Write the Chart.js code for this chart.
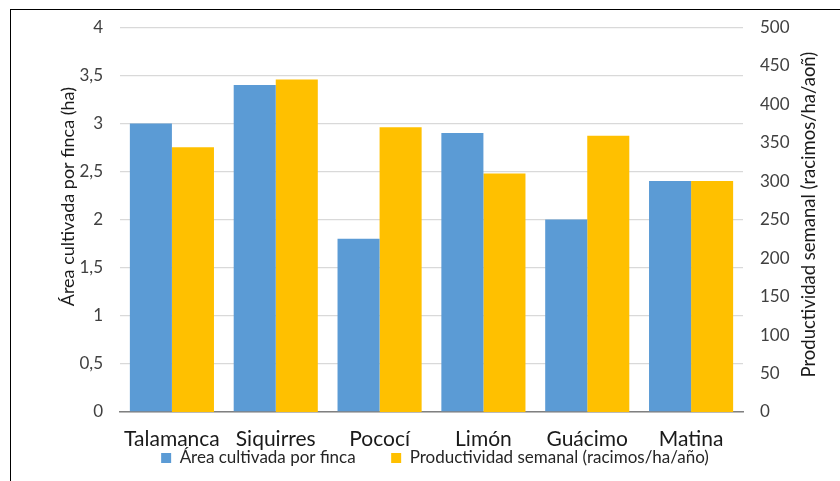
<!DOCTYPE html>
<html>
<head>
<meta charset="utf-8">
<script src="https://cdn.jsdelivr.net/npm/chart.js@4"></script>
<style>
  html, body { margin: 0; padding: 0; background: #fff; }
  body { width: 840px; height: 481px; overflow: hidden; position: relative; }
  #frame { position: absolute; left: 10px; top: 9px; width: 900px; height: 600px; border-left: 1.5px solid #000; border-top: 1.5px solid #000; }
  #wrap { position: absolute; left: 0; top: 0; width: 840px; height: 481px; }
</style>
</head>
<body>
<div id="frame"></div>
<div id="wrap"><canvas id="c" width="840" height="481"></canvas></div>
<script>
const categories = ["Talamanca", "Siquirres", "Pococí", "Limón", "Guácimo", "Matina"];
const areaLabel = "Área cultivada por finca";
const prodLabel = "Productividad semanal (racimos/ha/año)";
const areaValues = [3.0, 3.4, 1.8, 2.9, 2.0, 2.4];
const prodValues = [344, 432, 370, 310, 359, 300];
const leftTitle = "Área cultivada por finca (ha)";
const rightTitle = "Productividad semanal (racimos/ha/aoñ)";

const FONT = "Lato, 'Open Sans', sans-serif";

// Draws both axis titles reading bottom-to-top, as in the reference
const axisTitles = {
  id: 'axisTitles',
  afterLayout(chart) {
    // move the legend up so it sits right under the category labels
    if (chart.legend) {
      chart.legend.top -= 43;
      chart.legend.bottom -= 43;
    }
  },
  afterDraw(chart) {
    const ctx = chart.ctx;
    const area = chart.chartArea;
    const draw = (text, x, y, size) => {
      ctx.save();
      ctx.translate(x, y);
      ctx.rotate(-Math.PI / 2);
      ctx.textAlign = 'center';
      ctx.textBaseline = 'middle';
      ctx.fillStyle = '#1a1a1a';
      ctx.font = size + 'px ' + FONT;
      ctx.fillText(text, 0, 0);
      ctx.restore();
    };
    const yl = chart.scales.y, yr = chart.scales.y1;
    draw(leftTitle, yl.left + 28, (area.top + area.bottom) / 2 - 23, 18);
    draw(rightTitle, yr.right - 21, (area.top + area.bottom) / 2 - 5, 18.5);
  }
};

new Chart(document.getElementById('c'), {
  type: 'bar',
  data: {
    labels: categories,
    datasets: [
      { label: areaLabel, data: areaValues, backgroundColor: '#5B9BD5', yAxisID: 'y', categoryPercentage: 0.81, barPercentage: 1 },
      { label: prodLabel, data: prodValues, backgroundColor: '#FFC000', yAxisID: 'y1', categoryPercentage: 0.81, barPercentage: 1 }
    ]
  },
  plugins: [axisTitles],
  options: {
    responsive: false,
    animation: false,
    layout: { padding: { left: 40, right: 10, top: 18, bottom: -38.5 } },
    plugins: {
      tooltip: { enabled: false },
      legend: {
        position: 'bottom',
        labels: { boxWidth: 10, boxHeight: 10, padding: 35.5, color: '#262626', font: { family: FONT, size: 17 } }
      }
    },
    scales: {
      x: {
        afterFit: (s) => { s.height = 45; },
        grid: { display: false, drawTicks: false },
        border: { display: true, color: '#808080', width: 1.5 },
        ticks: { color: '#1a1a1a', padding: 15, font: { family: FONT, size: 21 } }
      },
      y: {
        position: 'left',
        min: 0, max: 4,
        afterFit: (s) => { s.width = 80; },
        grid: { color: '#d9d9d9', lineWidth: 1.3, drawTicks: false },
        border: { display: false },
        ticks: { stepSize: 0.5, padding: 17, color: '#404040', font: { family: FONT, size: 17 },
          callback: (v) => String(v).replace('.', ',') }
      },
      y1: {
        position: 'right',
        min: 0, max: 500,
        afterFit: (s) => { s.width = 87; },
        grid: { display: false, drawTicks: false },
        border: { display: false },
        ticks: { stepSize: 50, padding: 17, color: '#404040', font: { family: FONT, size: 17 } }
      }
    }
  }
});
</script>
</body>
</html>
